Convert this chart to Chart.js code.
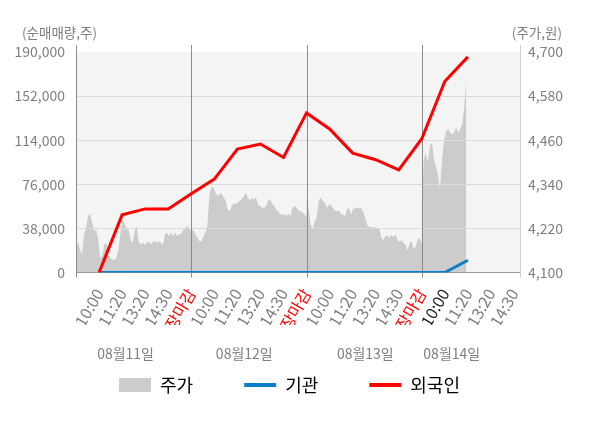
<!DOCTYPE html>
<html>
<head>
<meta charset="utf-8">
<script src="https://cdn.jsdelivr.net/npm/chart.js@4"></script>
<style>
  html, body { margin: 0; padding: 0; background: #fff; }
  #wrap { width: 600px; height: 428px; }
</style>
</head>
<body>
<div id="wrap"><canvas id="myChart" width="600" height="428"></canvas></div>
<script>
// tick texts
const slotLabels = ['10:00', '11:20', '13:20', '14:30', '장마감'];
const dayLabels = ['08월11일', '08월12일', '08월13일', '08월14일'];
const leftTicks = [0, 38000, 76000, 114000, 152000, 190000];
const rightTicks = [4100, 4220, 4340, 4460, 4580, 4700];

// net buying per slot (slot 1 = 08/11 10:00 ... slot 17 = 08/14 11:20)
const flowSlots = [1, 2, 3, 4, 5, 6, 7, 8, 9, 10, 11, 12, 13, 14, 15, 16, 17];
const foreign = [0, 49700, 54800, 54800, 67800, 80500, 106400, 110700, 99100,
                 137500, 123700, 102900, 97200, 88500, 115300, 164800, 185800];
const institution = [0, 0, 0, 0, 0, 0, 0, 0, 0, 0, 0, 0, 0, 0, 0, 0, 10600];

// intraday price, one value every ~2px of a trading day
const priceDay1 = [4154, 4185, 4163, 4149, 4204, 4222, 4254, 4260, 4235, 4213, 4217, 4190, 4140, 4145,
                   4176, 4181, 4149, 4140, 4135, 4135, 4140, 4163, 4208, 4245, 4231, 4222, 4217, 4190,
                   4181, 4213, 4226, 4185, 4176, 4181, 4176, 4181, 4185, 4176, 4185, 4185, 4181, 4185,
                   4181, 4176, 4204, 4208, 4199, 4208, 4199, 4208, 4199, 4204, 4205, 4215, 4222, 4226,
                   4222, 4213];
const priceDay2 = [4217, 4215, 4205, 4195, 4185, 4185, 4199, 4208, 4231, 4313, 4333, 4331, 4317, 4308,
                   4313, 4315, 4304, 4295, 4272, 4267, 4281, 4287, 4287, 4290, 4295, 4299, 4308, 4317,
                   4304, 4296, 4302, 4299, 4304, 4285, 4281, 4276, 4276, 4281, 4296, 4299, 4287, 4281,
                   4272, 4267, 4258, 4258, 4258, 4254, 4260, 4254, 4276, 4281, 4276, 4269, 4267, 4263,
                   4258, 4251];
const priceDay3 = [4299, 4276, 4231, 4217, 4240, 4249, 4295, 4304, 4295, 4290, 4276, 4284, 4285, 4276,
                   4269, 4267, 4269, 4260, 4258, 4254, 4272, 4276, 4258, 4272, 4275, 4276, 4276, 4275,
                   4267, 4249, 4229, 4224, 4224, 4222, 4224, 4220, 4217, 4195, 4187, 4199, 4199, 4195,
                   4202, 4196, 4205, 4187, 4185, 4187, 4181, 4175, 4160, 4181, 4185, 4163, 4172, 4190,
                   4193, 4176];
const priceDay4 = [4290, 4408, 4426, 4399, 4445, 4454, 4408, 4390, 4363, 4326, 4408, 4458, 4485, 4490,
                   4481, 4476, 4481, 4495, 4481, 4490, 4504, 4549, 4626];

const BLUE = '#0a7ccc';
const RED = '#ff0000';
const GREY = '#7f7f7f';
const FONT = "'Noto Sans CJK KR', 'Noto Sans', sans-serif";

const SLOTS_PER_DAY = 5;
const SAMPLES_PER_DAY = 57;
const daySlots = [0, 5, 10, 15];
const dateLabelSlots = [2.15, 7.3, 12.55, 16.3];
const tickSlots = [];
for (let i = 1; i <= 19; i++) tickSlots.push(i);

const pricePoints = [];
[priceDay1, priceDay2, priceDay3, priceDay4].forEach((day, d) => {
    day.forEach((p, i) => {
        pricePoints.push({ x: d * SLOTS_PER_DAY + i * SLOTS_PER_DAY / SAMPLES_PER_DAY, y: p });
    });
});
const foreignPoints = flowSlots.map((s, i) => ({ x: s, y: foreign[i] }));
const institutionPoints = flowSlots.map((s, i) => ({ x: s, y: institution[i] }));

Chart.defaults.font.family = FONT;

function line(ctx, x1, y1, x2, y2) {
    ctx.beginPath();
    ctx.moveTo(x1, y1);
    ctx.lineTo(x2, y2);
    ctx.stroke();
}

const frame = {
    id: 'frame',
    beforeDraw(chart) {
        const { ctx, chartArea: a } = chart;
        ctx.save();
        ctx.fillStyle = '#f4f4f4';
        ctx.fillRect(a.left, a.top, a.right - a.left, a.bottom - a.top);
        ctx.restore();
    },
    afterDatasetDraw(chart, args) {
        if (args.index !== 0) return;
        const { ctx, chartArea: a, scales } = chart;
        ctx.save();
        ctx.lineWidth = 1;
        ctx.strokeStyle = '#dadada';
        leftTicks.slice(1, -1).forEach(v => {
            const py = Math.round(scales.y.getPixelForValue(v)) + 0.5;
            line(ctx, a.left, py, a.right, py);
        });
        ctx.strokeStyle = '#8c8c8c';
        daySlots.forEach(s => {
            const px = Math.round(scales.x.getPixelForValue(s)) + 0.5;
            line(ctx, px, a.top - 7, px, a.bottom + 5);
        });
        ctx.strokeStyle = '#d0d0d0';
        line(ctx, a.right + 0.5, a.top - 7, a.right + 0.5, a.bottom + 5);
        ctx.strokeStyle = '#9a9a9a';
        line(ctx, a.left, Math.round(a.bottom) - 0.5, a.right, Math.round(a.bottom) - 0.5);
        ctx.restore();
    },
    afterDraw(chart) {
        const { ctx, scales } = chart;
        ctx.save();
        ctx.fillStyle = GREY;
        ctx.textBaseline = 'middle';
        ctx.font = '13.5px ' + FONT;
        ctx.textAlign = 'left';
        ctx.fillText('(순매매량,주)', 22, 33);
        ctx.textAlign = 'right';
        ctx.fillText('(주가,원)', 562, 33);
        ctx.font = '14px ' + FONT;
        ctx.textAlign = 'center';
        dayLabels.forEach((t, i) => {
            ctx.fillText(t, scales.x.getPixelForValue(dateLabelSlots[i]), 354);
        });
        ctx.restore();
    }
};

const ctx = document.getElementById('myChart');

new Chart(ctx, {
    type: 'line',
    data: {
        datasets: [
            {
                label: '주가',
                data: pricePoints,
                yAxisID: 'y1',
                fill: 'start',
                backgroundColor: '#cccccc',
                borderColor: '#cccccc',
                borderWidth: 0,
                pointRadius: 0,
                tension: 0,
                order: 3,
            },
            {
                label: '기관',
                data: institutionPoints,
                yAxisID: 'y',
                borderColor: BLUE,
                backgroundColor: BLUE,
                borderWidth: 3,
                pointRadius: 0,
                tension: 0,
                order: 2,
            },
            {
                label: '외국인',
                data: foreignPoints,
                yAxisID: 'y',
                borderColor: RED,
                backgroundColor: RED,
                borderWidth: 3,
                pointRadius: 0,
                tension: 0,
                order: 1,
            }
        ]
    },
    options: {
        responsive: false,
        animation: false,
        layout: {
            padding: { top: 52, right: 21, bottom: 24, left: 0 }
        },
        plugins: {
            tooltip: { enabled: false },
            legend: {
                position: 'bottom',
                labels: {
                    usePointStyle: true,
                    pointStyleWidth: 32,
                    boxHeight: 14,
                    padding: 51,
                    color: '#444',
                    font: { size: 18 },
                    generateLabels: () => [
                        { text: '주가', fillStyle: '#cccccc', strokeStyle: '#cccccc', lineWidth: 0, pointStyle: 'rect', datasetIndex: 0, hidden: false },
                        { text: '기관', fillStyle: BLUE, strokeStyle: BLUE, lineWidth: 4, pointStyle: 'line', datasetIndex: 1, hidden: false },
                        { text: '외국인', fillStyle: RED, strokeStyle: RED, lineWidth: 4, pointStyle: 'line', datasetIndex: 2, hidden: false }
                    ]
                }
            }
        },
        scales: {
            x: {
                type: 'linear',
                min: 0,
                max: 19.26,
                grid: { display: false, drawTicks: false },
                border: { display: false },
                afterBuildTicks: s => { s.ticks = tickSlots.map(v => ({ value: v })); },
                afterFit: s => { s.height = 52.5; },
                ticks: {
                    autoSkip: false,
                    minRotation: 60,
                    maxRotation: 60,
                    padding: 13,
                    font: { size: 16 },
                    color: c => {
                        const v = c.tick.value;
                        if (v % SLOTS_PER_DAY === 0) return RED;
                        if (v === 16) return '#222';
                        return GREY;
                    },
                    callback: v => slotLabels[(v - 1) % SLOTS_PER_DAY]
                }
            },
            y: {
                position: 'left',
                min: 0,
                max: 190000,
                grid: { display: false, drawTicks: false },
                border: { display: false },
                afterBuildTicks: s => { s.ticks = leftTicks.map(v => ({ value: v })); },
                afterFit: s => { s.width = 76; },
                ticks: {
                    padding: 11,
                    color: GREY,
                    font: { size: 14 },
                    callback: v => v.toLocaleString('en-US')
                }
            },
            y1: {
                position: 'right',
                min: 4100,
                max: 4700,
                grid: { display: false, drawTicks: false },
                border: { display: false },
                afterBuildTicks: s => { s.ticks = rightTicks.map(v => ({ value: v })); },
                afterFit: s => { s.width = 59; },
                ticks: {
                    padding: 8,
                    color: GREY,
                    font: { size: 14 },
                    callback: v => v.toLocaleString('en-US')
                }
            }
        }
    },
    plugins: [frame]
});
</script>
</body>
</html>
